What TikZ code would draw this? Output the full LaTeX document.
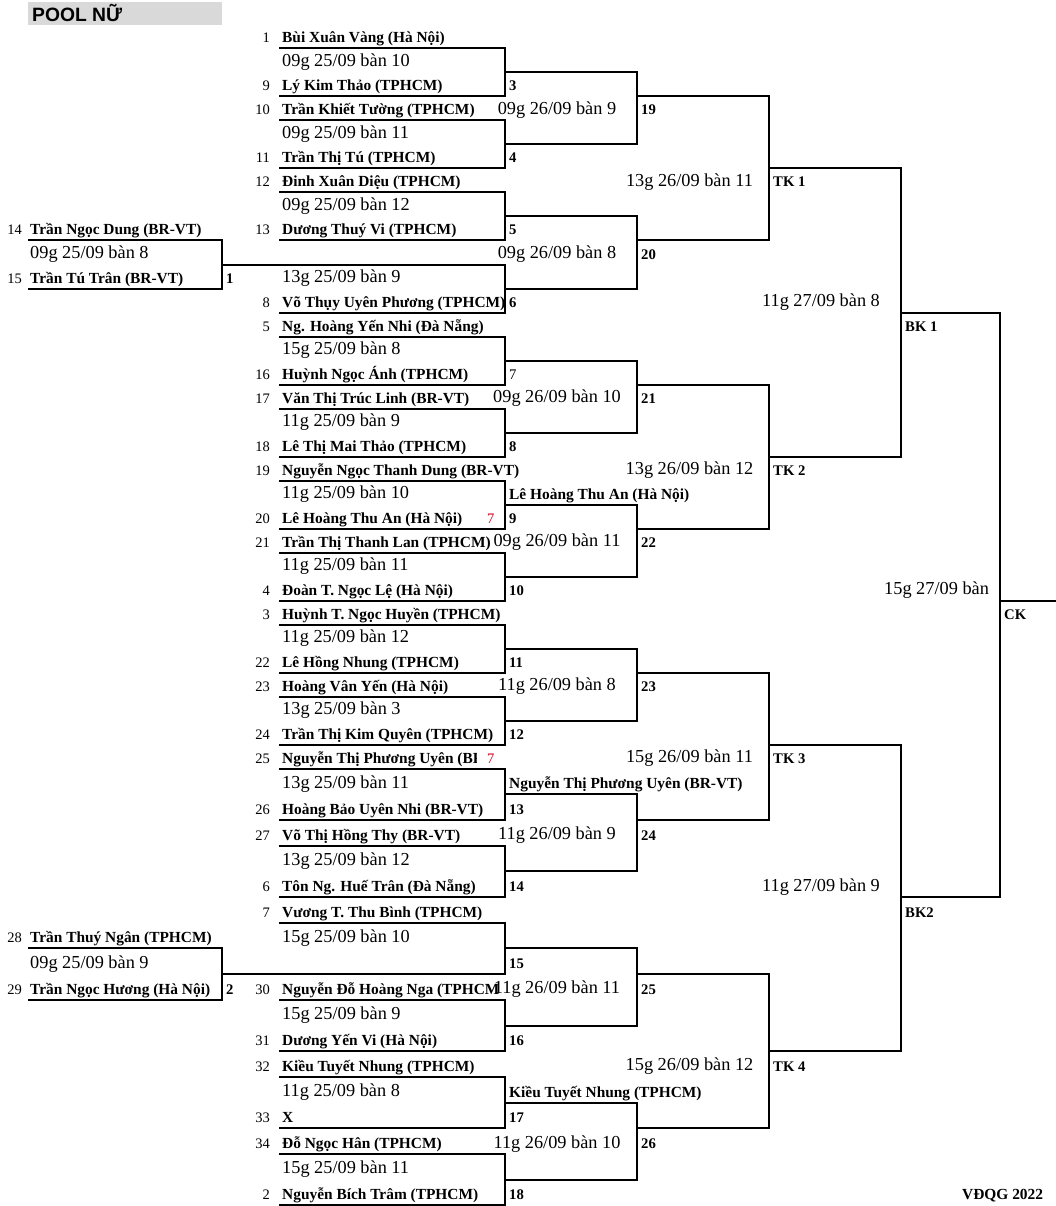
\documentclass[tikz,border=0pt]{standalone}
\usepackage{fontspec}
\setmainfont{Liberation Serif}
\newfontfamily\titlefont{Liberation Sans}
\usetikzlibrary{calc}
\definecolor{markred}{RGB}{200,0,30}
\def\bbox(#1:#2:#3:#4){\draw[bline] (c#1 |- b#3) -| (c#2 |- b#4) -- (c#1 |- b#4);}
\tikzset{
	bline/.style={line width=2pt},
	seedno/.style={font=\fontsize{14.5}{17}\selectfont, inner sep=0pt, anchor=base east},
	player/.style={font=\fontsize{15.4}{18}\selectfont\bfseries, inner sep=0pt, anchor=base west},
	slot/.style={font=\fontsize{18.3}{21}\selectfont, inner sep=0pt},
	mlabel/.style={font=\fontsize{14.7}{17}\selectfont\bfseries, inner sep=0pt, anchor=base west},
	redmark/.style={font=\fontsize{14.5}{17}\selectfont, text=markred, inner sep=0pt, anchor=base west},
}

\begin{document}
\begin{tikzpicture}[x=1pt,y=-1pt]
			%%%%% START %%%%%
			\useasboundingbox (0,0) rectangle (1056,1206);
			
			% row bottoms and column edges
			\foreach \k in {0,...,47}{
				\pgfmathsetmacro\yy{\k<31 ? 48.5+24*\k : 768.5+25.7*(\k-30)}
				\coordinate (b\k) at (0,\yy);
			}
			\foreach \n/\x in {0/28,1/222,2/279,3/505,4/637,5/769,6/901,7/1000,8/1056}
				\coordinate (c\n) at (\x,0);
			\coordinate (cutA) at (476,0);
			\coordinate (cutB) at (499,0);
			
			\fill[black!15] (28,2) rectangle (222,25);
			\node[font=\titlefont\fontsize{19.3}{22}\selectfont\bfseries, inner sep=0pt, anchor=west] (pool) at (32,13.5) {POOL NỮ};
			
			% bracket lines
			\bbox(0:1:8:10)
			\bbox(0:1:37:39)
			\foreach \r [evaluate=\r as \q using int(\r+2)] in {0,3,6,12,15,18,21,24,27,30,33,39,42,45}
				\bbox(2:3:\r:\q)
			\draw[bline] (c1 |- b9) -| (c3 |- b11) -- (c2 |- b11);
			\draw[bline] (c2 |- b36) -| (c3 |- b38) -- (c1 |- b38);
			\foreach \r [evaluate=\r as \q using int(\r+3)] in {1,7,13,19,25,31,37,43}
				\bbox(3:4:\r:\q)
			\foreach \r [evaluate=\r as \q using int(\r+6)] in {2,14,26,38}
				\bbox(4:5:\r:\q)
			\bbox(5:6:5:17)
			\bbox(5:6:29:41)
			\bbox(6:7:11:35)
			\draw[bline] (c7 |- b23) -- (c8 |- b23);
			
			% players
			\foreach \row/\seed/\who in {8/14/Trần Ngọc Dung (BR-VT), 10/15/Trần Tú Trân (BR-VT),
				37/28/Trần Thuý Ngân (TPHCM), 39/29/Trần Ngọc Hương (Hà Nội)}{
				\node[seedno] (s\seed) at ($(c0 |- b\row)+(-6,-5.5)$) {\seed};
				\node[player] (p\seed) at ($(c0 |- b\row)+(2,-5.5)$) {\who};
			}
			\foreach \row/\seed/\who in {0/1/Bùi Xuân Vàng (Hà Nội), 2/9/Lý Kim Thảo (TPHCM),
				3/10/Trần Khiết Tường (TPHCM), 5/11/Trần Thị Tú (TPHCM),
				6/12/Đinh Xuân Diệu (TPHCM), 8/13/Dương Thuý Vi (TPHCM),
				11/8/Võ Thụy Uyên Phương (TPHCM), 12/5/Ng. Hoàng Yến Nhi (Đà Nẵng),
				14/16/Huỳnh Ngọc Ánh (TPHCM), 15/17/Văn Thị Trúc Linh (BR-VT),
				17/18/Lê Thị Mai Thảo (TPHCM), 18/19/Nguyễn Ngọc Thanh Dung (BR-VT),
				20/20/Lê Hoàng Thu An (Hà Nội), 21/21/Trần Thị Thanh Lan (TPHCM),
				23/4/Đoàn T. Ngọc Lệ (Hà Nội), 24/3/Huỳnh T. Ngọc Huyền (TPHCM),
				26/22/Lê Hồng Nhung (TPHCM), 27/23/Hoàng Vân Yến (Hà Nội),
				29/24/Trần Thị Kim Quyên (TPHCM), 32/26/Hoàng Bảo Uyên Nhi (BR-VT),
				33/27/Võ Thị Hồng Thy (BR-VT), 35/6/Tôn Ng. Huế Trân (Đà Nẵng),
				36/7/Vương T. Thu Bình (TPHCM), 41/31/Dương Yến Vi (Hà Nội),
				42/32/Kiều Tuyết Nhung (TPHCM), 44/33/X,
				45/34/Đỗ Ngọc Hân (TPHCM), 47/2/Nguyễn Bích Trâm (TPHCM)}{
				\node[seedno] (s\seed) at ($(c2 |- b\row)+(-9,-5.5)$) {\seed};
				\node[player] (p\seed) at ($(c2 |- b\row)+(3,-5.5)$) {\who};
			}
			\node[seedno] (s25) at ($(c2 |- b30)+(-9,-5.5)$) {25};
			\begin{scope}
				\clip (c2 |- b29) rectangle (cutA |- b30);
				\node[player] (p25) at ($(c2 |- b30)+(3,-5.5)$) {Nguyễn Thị Phương Uyên (BR};
			\end{scope}
			\node[seedno] (s30) at ($(c2 |- b39)+(-9,-5.5)$) {30};
			\begin{scope}
				\clip (c2 |- b38) rectangle (cutB |- b39);
				\node[player] (p30) at ($(c2 |- b39)+(3,-5.5)$) {Nguyễn Đỗ Hoàng Nga (TPHCM)};
			\end{scope}
			\node[redmark] (red20) at ($(c3 |- b20)+(-18,-5.5)$) {7};
			\node[redmark] (red25) at ($(c3 |- b30)+(-18,-5.5)$) {7};
			
			% winners carried over
			\foreach \row/\who in {19/Lê Hoàng Thu An (Hà Nội), 31/Nguyễn Thị Phương Uyên (BR-VT),
				43/Kiều Tuyết Nhung (TPHCM)}
				\node[player] (w\row) at ($(c3 |- b\row)+(4,-5.5)$) {\who};
			
			% match times
			\foreach \row/\when in {9/{09g 25/09 bàn 8}, 38/{09g 25/09 bàn 9}}
				\node[slot, anchor=base west] (ta\row) at ($(c0 |- b\row)+(2,-6)$) {\when};
			\foreach \row/\when in {1/{09g 25/09 bàn 10}, 4/{09g 25/09 bàn 11}, 7/{09g 25/09 bàn 12},
				10/{13g 25/09 bàn 9}, 13/{15g 25/09 bàn 8}, 16/{11g 25/09 bàn 9},
				19/{11g 25/09 bàn 10}, 22/{11g 25/09 bàn 11}, 25/{11g 25/09 bàn 12},
				28/{13g 25/09 bàn 3}, 31/{13g 25/09 bàn 11}, 34/{13g 25/09 bàn 12},
				37/{15g 25/09 bàn 10}, 40/{15g 25/09 bàn 9}, 43/{11g 25/09 bàn 8},
				46/{15g 25/09 bàn 11}}
				\node[slot, anchor=base west] (tb\row) at ($(c2 |- b\row)+(3,-6)$) {\when};
			\foreach \row/\when in {3/{09g 26/09 bàn 9}, 9/{09g 26/09 bàn 8}, 15/{09g 26/09 bàn 10},
				21/{09g 26/09 bàn 11}, 27/{11g 26/09 bàn 8}, 33/{11g 26/09 bàn 9},
				39/{11g 26/09 bàn 11}, 45/{11g 26/09 bàn 10}}
				\node[slot, anchor=base] (tc\row) at ($(c3 |- b\row)+(52,-6)$) {\when};
			\foreach \row/\when in {6/{13g 26/09 bàn 11}, 18/{13g 26/09 bàn 12},
				30/{15g 26/09 bàn 11}, 42/{15g 26/09 bàn 12}}
				\node[slot, anchor=base] (td\row) at ($(c4 |- b\row)+(52.5,-6)$) {\when};
			\foreach \row/\when in {11/{11g 27/09 bàn 8}, 35/{11g 27/09 bàn 9}}
				\node[slot, anchor=base] (te\row) at ($(c5 |- b\row)+(52,-6)$) {\when};
			\node[slot, anchor=base west] (tf23) at ($(c6 |- b23)+(-17,-6)$) {15g 27/09 bàn};
			
			% match numbers
			\foreach \row/\lab in {10/1, 39/2}
				\node[mlabel] (m\lab) at ($(c1 |- b\row)+(4,-5.5)$) {\lab};
			\foreach \row/\lab in {2/3, 5/4, 8/5, 11/6, 17/8, 20/9, 23/10, 26/11, 29/12,
				32/13, 35/14, 38/15, 41/16, 44/17, 47/18}
				\node[mlabel] (m\lab) at ($(c3 |- b\row)+(4,-5.5)$) {\lab};
			\node[mlabel, font=\fontsize{14.7}{17}\selectfont] (m7) at ($(c3 |- b14)+(4,-5.5)$) {7};
			\foreach \row/\lab in {3/19, 9/20, 15/21, 21/22, 27/23, 33/24, 39/25, 45/26}
				\node[mlabel] (m\lab) at ($(c4 |- b\row)+(4,-5.5)$) {\lab};
			\foreach \row/\lab/\id in {6/TK 1/tk1, 18/TK 2/tk2, 30/TK 3/tk3, 42/TK 4/tk4}
				\node[mlabel] (\id) at ($(c5 |- b\row)+(4,-5.5)$) {\lab};
			\node[mlabel] (bk1) at ($(c6 |- b12)+(4,-5.5)$) {BK 1};
			\node[mlabel] (bk2) at ($(c6 |- b36)+(4,-5.5)$) {BK2};
			\node[mlabel] (ck) at ($(c7 |- b24)+(4,-5.5)$) {CK};
			
			\node[player] (year) at ($(c6 |- b47)+(61,-5.5)$) {VĐQG 2022};
			
			%%%%% END %%%%%
\end{tikzpicture}
\end{document}
